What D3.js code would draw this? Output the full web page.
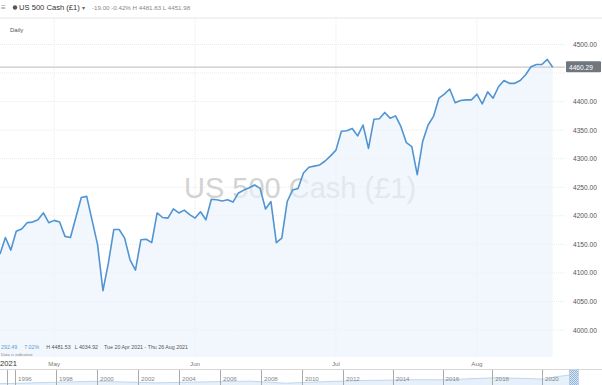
<!DOCTYPE html>
<html>
<head>
<meta charset="utf-8">
<script src="https://cdn.jsdelivr.net/npm/d3@7"></script>
<style>
  body { margin: 0; background: #fff; }
  svg { display: block; font-family: "Liberation Sans", Arial, sans-serif; }
</style>
</head>
<body>
<svg id="chart" width="602" height="385"></svg>
<script>
// Daily closes (Sun-Fri bars), 20 Apr 2021 onwards
const closes = [
  4133, 4162, 4140, 4173, 4177, 4188, 4189, 4193, 4205, 4188,
  4192, 4189, 4164, 4162, 4197, 4232, 4234, 4192, 4150, 4069,
  4117, 4176, 4176, 4161, 4123, 4105, 4158, 4159, 4153, 4205,
  4197, 4196, 4212, 4205, 4210, 4202, 4196, 4207, 4193, 4229,
  4228, 4226, 4228, 4224, 4240, 4245, 4249, 4254, 4248, 4212,
  4225, 4153, 4161, 4225, 4245, 4248, 4275, 4285, 4287, 4289,
  4296, 4305, 4315, 4348, 4349, 4353, 4340, 4359, 4318, 4369,
  4370, 4381, 4371, 4375, 4356, 4328, 4321, 4272, 4330, 4359,
  4374, 4406, 4413, 4422, 4398, 4402, 4403, 4403, 4413, 4396,
  4417, 4406, 4426, 4437, 4432, 4432, 4437, 4447, 4461, 4465,
  4465, 4474, 4460.29
];
const lastPrice = 4460.29;

// Month labels and the bar index where each month starts
const monthLabels = ["May", "Jun", "Jul", "Aug"];
const monthStart = [10, 36, 62, 88];

// Price axis ticks
const priceTicks = [4000, 4050, 4100, 4150, 4200, 4250, 4300, 4350, 4400, 4450, 4500];

// Navigator (long history) years and rough levels
const navYears = [1994.8, 1996, 1998, 2000, 2001.5, 2003, 2005, 2007.5, 2009.2, 2011, 2013, 2015, 2016, 2018, 2019, 2020.2, 2020.5, 2021.1];
const navLevels = [460, 640, 1100, 1450, 1150, 850, 1200, 1520, 720, 1300, 1800, 2080, 2050, 2800, 2650, 2300, 3200, 3900];
const navTicks = [1996, 1998, 2000, 2002, 2004, 2006, 2008, 2010, 2012, 2014, 2016, 2018, 2020];

let svg = d3.select("#chart"),
    width = 602,
    height = 385;

let plotTop = 18, plotBottom = 357, plotRight = 565;

let x = d3.scaleLinear().domain([0, closes.length - 1]).range([0, 552.7]);
let y = d3.scaleLinear().domain([4000, 4500]).range([330, 44.5]);

// Piecewise time scale for the navigator strip
let xNav = d3.scaleLinear().domain([1996, 2012, 2020]).range([15, 343, 542]);
let yNav = d3.scaleLinear().domain([0, 5500]).range([385, 371]);

// Header
svg.append("line")
    .attr("x1", 0).attr("x2", width)
    .attr("y1", plotTop).attr("y2", plotTop)
    .attr("stroke", "#e6e6e6");

svg.append("text").attr("x", 1).attr("y", 10)
    .attr("font-size", 8).attr("fill", "#888").text("\u2261");
svg.append("circle").attr("cx", 15).attr("cy", 7.5).attr("r", 2.2).attr("fill", "#555");
svg.append("text").attr("x", 19).attr("y", 10)
    .attr("font-size", 7.6).attr("fill", "#333").text("US 500 Cash (£1)");
svg.append("text").attr("x", 82).attr("y", 10)
    .attr("font-size", 6).attr("fill", "#666").text("\u25BE");
svg.append("text").attr("x", 92).attr("y", 10)
    .attr("font-size", 6.2).attr("fill", "#888").text("-19.00   -0.42%  H 4481.83  L 4451.98");

svg.append("text").attr("x", 10).attr("y", 32)
    .attr("font-size", 6).attr("fill", "#555").text("Daily");

// Grid
svg.append("g").selectAll("line")
    .data(priceTicks)
    .enter().append("line")
    .attr("x1", 0).attr("x2", plotRight)
    .attr("y1", d => y(d)).attr("y2", d => y(d))
    .attr("stroke", "#eaeaea")
    .attr("stroke-dasharray", "1,1");

svg.append("g").selectAll("line")
    .data(monthStart)
    .enter().append("line")
    .attr("x1", d => x(d)).attr("x2", d => x(d))
    .attr("y1", plotTop).attr("y2", plotBottom)
    .attr("stroke", "#eaeaea")
    .attr("stroke-dasharray", "1,1");

// Watermark
svg.append("text")
    .attr("x", 300).attr("y", 198)
    .attr("text-anchor", "middle")
    .attr("font-size", 29)
    .attr("fill", "#d3d3d3")
    .text("US 500 Cash (£1)");

// Area + line
let area = d3.area()
    .x((d, i) => x(i))
    .y0(plotBottom)
    .y1(d => y(d));

let line = d3.line()
    .x((d, i) => x(i))
    .y(d => y(d));

svg.append("path")
    .datum(closes)
    .attr("d", area)
    .attr("fill", "#eaf2fb")
    .attr("fill-opacity", 0.65);

// Current price line
svg.append("line")
    .attr("x1", 0).attr("x2", plotRight)
    .attr("y1", y(lastPrice)).attr("y2", y(lastPrice))
    .attr("stroke", "#c9c9c9")
    .attr("stroke-width", 1.3);

svg.append("path")
    .datum(closes)
    .attr("d", line)
    .attr("fill", "none")
    .attr("stroke", "#5094d4")
    .attr("stroke-width", 1.6)
    .attr("stroke-linejoin", "round");

// Price axis labels
svg.append("g").selectAll("text")
    .data(priceTicks.filter(d => Math.abs(y(d) - y(lastPrice)) > 8))
    .enter().append("text")
    .attr("x", 573)
    .attr("y", d => y(d) + 2.5)
    .attr("font-size", 6.6)
    .attr("fill", "#555")
    .text(d => d3.format(".2f")(d));

svg.append("rect")
    .attr("x", 566).attr("y", y(lastPrice) - 6)
    .attr("width", 35).attr("height", 11)
    .attr("rx", 1)
    .attr("fill", "#70767e");
svg.append("text")
    .attr("x", 569).attr("y", y(lastPrice) + 2.5)
    .attr("font-size", 6.6)
    .attr("fill", "#fff")
    .text(d3.format(".2f")(lastPrice));

// Range stats
let stats = svg.append("text").attr("x", 1).attr("y", 349).attr("font-size", 5.3);
stats.append("tspan").attr("fill", "#5b9bd5").text("292.49");
stats.append("tspan").attr("dx", 7).attr("fill", "#5b9bd5").text("7.02%");
stats.append("tspan").attr("dx", 7).attr("fill", "#555").text("H 4481.53");
stats.append("tspan").attr("dx", 4).attr("fill", "#555").text("L 4034.92");
stats.append("tspan").attr("dx", 6).attr("fill", "#555").text("Tue 20 Apr 2021 - Thu 26 Aug 2021");

svg.append("text").attr("x", 1).attr("y", 356)
    .attr("font-size", 4.2).attr("fill", "#888").text("Data is indicative");

// Month axis
svg.append("text").attr("x", 0).attr("y", 366)
    .attr("font-size", 7.6).attr("fill", "#333").text("2021");

svg.append("g").selectAll("text")
    .data(monthStart)
    .enter().append("text")
    .attr("x", d => x(d))
    .attr("y", 366)
    .attr("text-anchor", "middle")
    .attr("font-size", 6.2)
    .attr("fill", "#777")
    .text((d, i) => monthLabels[i]);

// Navigator
svg.append("line")
    .attr("x1", 0).attr("x2", width)
    .attr("y1", 369.5).attr("y2", 369.5)
    .attr("stroke", "#d8d8d8");

let navArea = d3.area()
    .x((d, i) => xNav(navYears[i]))
    .y0(385)
    .y1(d => yNav(d));

svg.append("path")
    .datum(navLevels)
    .attr("d", navArea)
    .attr("fill", "#e6f0fa");

svg.append("path")
    .datum(navLevels)
    .attr("d", d3.line().x((d, i) => xNav(navYears[i])).y(d => yNav(d)))
    .attr("fill", "none")
    .attr("stroke", "#a9c8e8")
    .attr("stroke-width", 0.7);

svg.append("line")
    .attr("x1", 7.5).attr("x2", 7.5)
    .attr("y1", 370).attr("y2", 385)
    .attr("stroke", "#aaa");

svg.append("g").selectAll("line")
    .data(navTicks)
    .enter().append("line")
    .attr("x1", d => Math.round(xNav(d)) + 0.5)
    .attr("x2", d => Math.round(xNav(d)) + 0.5)
    .attr("y1", 370).attr("y2", 385)
    .attr("stroke", "#aaa");

svg.append("g").selectAll("text")
    .data(navTicks)
    .enter().append("text")
    .attr("x", d => xNav(d) + 3)
    .attr("y", 381)
    .attr("font-size", 6.2)
    .attr("fill", "#888")
    .text(d => d);

// Selected window handle
let defs = svg.append("defs");
let hatch = defs.append("pattern")
    .attr("id", "hatch")
    .attr("width", 2).attr("height", 2)
    .attr("patternUnits", "userSpaceOnUse");
hatch.append("rect").attr("width", 2).attr("height", 2).attr("fill", "#dbe7f4");
hatch.append("rect").attr("width", 1).attr("height", 1).attr("fill", "#8fb3d9");
hatch.append("rect").attr("x", 1).attr("y", 1).attr("width", 1).attr("height", 1).attr("fill", "#8fb3d9");

svg.append("rect")
    .attr("x", xNav(2021.1)).attr("y", 370)
    .attr("width", 9).attr("height", 15)
    .attr("fill", "url(#hatch)")
    .attr("stroke", "#9fbfe0")
    .attr("stroke-width", 0.5);
</script>
</body>
</html>
